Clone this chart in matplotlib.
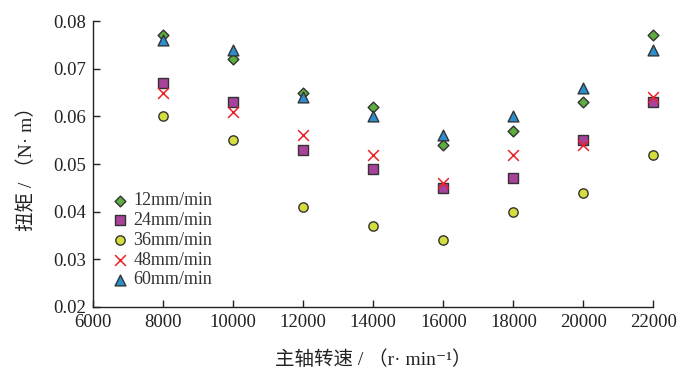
import matplotlib
matplotlib.use("Agg")
import matplotlib.pyplot as plt

speed = [8000, 10000, 12000, 14000, 16000, 18000, 20000, 22000]
t12 = [0.077, 0.072, 0.065, 0.062, 0.054, 0.057, 0.063, 0.077]
t24 = [0.067, 0.063, 0.053, 0.049, 0.045, 0.047, 0.055, 0.063]
t36 = [0.060, 0.055, 0.041, 0.037, 0.034, 0.040, 0.044, 0.052]
t48 = [0.065, 0.061, 0.056, 0.052, 0.046, 0.052, 0.054, 0.064]
t60 = [0.076, 0.074, 0.064, 0.060, 0.056, 0.060, 0.066, 0.074]
labels = ["12mm/min", "24mm/min", "36mm/min", "48mm/min", "60mm/min"]

plt.rcParams["font.family"] = ["Liberation Serif", "Noto Sans CJK SC", "DejaVu Serif"]

fig = plt.figure(figsize=(6.86, 3.78), dpi=100)
ax = fig.add_axes([0.1356, 0.188, 0.817, 0.756])

edge = "#333333"
kw = dict(clip_on=False, zorder=3)
ax.scatter(speed, t12, marker="D", s=30, c="#5cae3f", edgecolors=edge, linewidths=1.0, label=labels[0], **kw)
ax.scatter(speed, t24, marker="s", s=45, c="#a8429a", edgecolors=edge, linewidths=1.0, label=labels[1], **kw)
ax.scatter(speed, t36, marker="o", s=45, c="#d5dd3e", edgecolors=edge, linewidths=1.0, label=labels[2], **kw)
ax.scatter(speed, t48, marker="x", s=60, c="#ec2127", linewidths=1.1, label=labels[3], clip_on=False, zorder=4)
ax.scatter(speed, t60, marker="^", s=60, c="#2b8fcf", edgecolors=edge, linewidths=1.0, label=labels[4], **kw)

ax.set_xlim(6000, 22000)
ax.set_ylim(0.02, 0.08)
ax.set_xticks(range(6000, 22001, 2000))
ax.set_yticks([0.02, 0.03, 0.04, 0.05, 0.06, 0.07, 0.08])
ax.yaxis.set_major_formatter(matplotlib.ticker.FormatStrFormatter("%.2f"))
ax.spines["top"].set_visible(False)
ax.spines["right"].set_visible(False)
for s in ("left", "bottom"):
    ax.spines[s].set_color("#222222")
    ax.spines[s].set_linewidth(1.0)
ax.tick_params(direction="in", length=5, width=1.0, labelsize=13.5, color="#222222", labelcolor="#222222")
ax.tick_params(axis="x", pad=5)
ax.tick_params(axis="y", pad=5)

ax.set_xlabel("主轴转速 / （r· min⁻¹）", fontsize=14, color="#222222", labelpad=14)
ax.set_ylabel("扭矩 / （N· m）", fontsize=14, color="#222222", labelpad=12)

ax.legend(loc="upper left", bbox_to_anchor=(0.006, 0.445), frameon=False, fontsize=13,
          handletextpad=0.15, labelspacing=0.15, borderpad=0.2, handlelength=1.2,
          labelcolor="#333333")

fig.savefig("out.png", dpi=100)
